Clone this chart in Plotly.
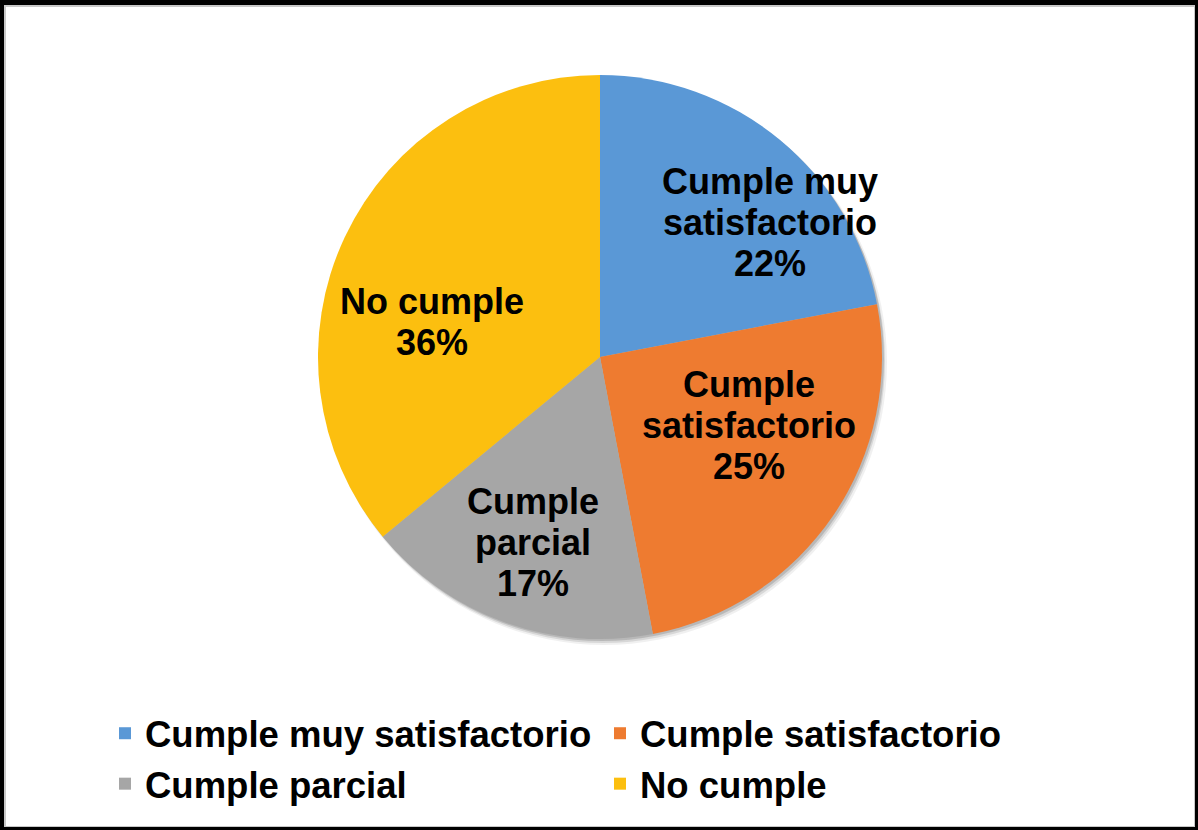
import math
import plotly.graph_objects as go

# Survey compliance results
categories = ["Cumple muy satisfactorio", "Cumple satisfactorio", "Cumple parcial", "No cumple"]
slice_text = ["Cumple muy<br>satisfactorio", "Cumple<br>satisfactorio", "Cumple<br>parcial", "No cumple"]
values = [22, 25, 17, 36]
colors = ["#5a98d6", "#ee7b30", "#a6a6a6", "#fcbf0f"]

# Label placement inside each slice: angular shift (deg) from the slice
# bisector and distance from the centre as a fraction of the radius
label_shift = [12, -9.5, 0, -13.4]
label_radius = [0.77, 0.58, 0.70, 0.61]

W, H = 1198, 830
FONT = "Liberation Sans, Arial, sans-serif"
CX, CY, R = 600, 357, 282  # pie centre and radius in pixels
LINE_GAP = 41
LABEL_SIZE = 36


def px_x(v):
    return v / W


def px_y(v):
    return 1 - v / H


def circle_domain(cx, cy, r):
    return dict(x=[px_x(cx - r), px_x(cx + r)], y=[px_y(cy + r), px_y(cy - r)])


fig = go.Figure()

# Soft drop shadow beneath the pie
for dx, dy, dr, alpha in [(4, 5, 1, 0.06), (3, 4, 0, 0.10), (2, 2, 0, 0.14)]:
    fig.add_trace(go.Pie(
        values=[1], labels=["shadow"], sort=False,
        marker=dict(colors=[f"rgba(0,0,0,{alpha})"], line=dict(width=0)),
        textinfo="none", hoverinfo="skip", showlegend=False,
        domain=circle_domain(CX + dx, CY + dy, R + dr),
    ))

fig.add_trace(go.Pie(
    labels=categories,
    values=values,
    sort=False,
    direction="clockwise",
    rotation=0,
    marker=dict(colors=colors, line=dict(width=0)),
    textinfo="none",
    hoverinfo="label+percent",
    domain=circle_domain(CX, CY, R),
))

# Slice labels: name lines plus percentage, centred within each slice
annotations = []
total = sum(values)
cum = 0
for name, v, shift, rf in zip(slice_text, values, label_shift, label_radius):
    mid = (cum + v / 2) / total * 360
    cum += v
    ang = math.radians(mid + shift)
    lx = CX + rf * R * math.sin(ang)
    ly = CY - rf * R * math.cos(ang)
    lines = name.split("<br>") + [f"{v / total * 100:.0f}%"]
    top = ly - (len(lines) - 1) * LINE_GAP / 2
    for i, line in enumerate(lines):
        annotations.append(dict(
            x=px_x(lx), y=px_y(top + i * LINE_GAP), xref="paper", yref="paper",
            text=f"<b>{line}</b>", showarrow=False,
            xanchor="center", yanchor="middle",
            font=dict(family=FONT, size=LABEL_SIZE, color="black"),
        ))

# Chart frame: heavy black edge with a soft grey inner line
shapes = []
def band(x0, y0, x1, y1, color):
    shapes.append(dict(type="rect", xref="paper", yref="paper",
                       x0=px_x(x0), x1=px_x(x1), y0=px_y(y1), y1=px_y(y0),
                       fillcolor=color, line=dict(width=0), layer="above"))

band(0, 0, W, 5, "black")
band(0, 0, 4, H, "black")
band(W - 3, 0, W, H, "black")
band(0, H - 3, W, H, "black")
band(4, 5, W - 3, 7, "#c8c8c8")
band(4, 5, 6, H - 3, "#c8c8c8")
band(W - 4, 5, W - 3, H - 3, "#c8c8c8")
band(4, H - 4, W - 3, H - 3, "#c8c8c8")

fig.update_layout(
    width=W,
    height=H,
    margin=dict(l=0, r=0, t=0, b=0),
    paper_bgcolor="white",
    plot_bgcolor="white",
    shapes=shapes,
    annotations=annotations,
    showlegend=True,
    legend=dict(
        orientation="h",
        x=px_x(105), y=px_y(703),
        xanchor="left", yanchor="top",
        font=dict(family=FONT, size=36.5, color="black", weight="bold"),
        entrywidth=450,
        entrywidthmode="pixels",
        traceorder="normal",
        itemclick=False,
        tracegroupgap=0,
    ),
)

fig.write_html("out.html")
